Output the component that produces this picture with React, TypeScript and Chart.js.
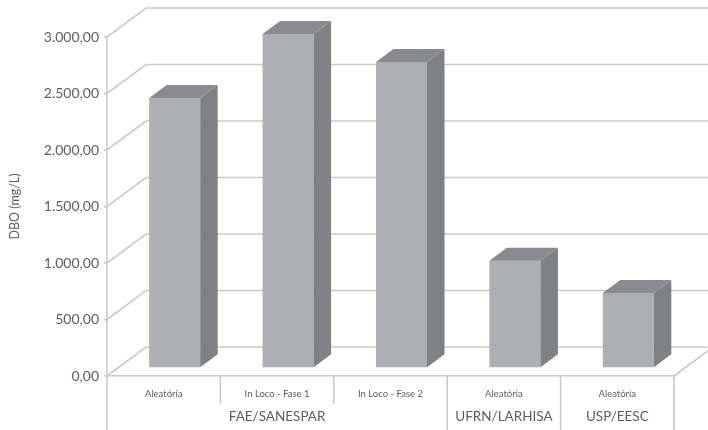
import React, { useEffect, useRef } from "react";
import { Chart, registerables } from "chart.js";

Chart.register(...registerables);

const categories = ["Aleatória", "In Loco - Fase 1", "In Loco - Fase 2", "Aleatória", "Aleatória"];
const dboValues = [2389, 2956, 2708, 950, 664];
const groupNames = ["FAE/SANESPAR", "UFRN/LARHISA", "USP/EESC"];
const groupSpans = [3, 1, 1];

const FONT = "Lato, 'Open Sans', sans-serif";
const LINE = "#c9cacc";
const TEXT = "#5c5d5f";
const FRONT = "#aeafb2";
const SIDE = "#808184";
const TOP = "#8a8b8e";

const WALL_DX = 39;
const WALL_DY = 29;
const BAR_DX = 11;
const BAR_DY = 8;
const BAR_DEPTH_X = 17.5;
const BAR_DEPTH_Y = 13;

// Back wall, side wall and floor of the 3D box, plus the two-level category dividers.
const box3d = {
  id: "box3d",
  beforeDatasetsDraw(chart: any) {
    const { ctx, scales, chartArea, width, height } = chart;
    const { left, right, bottom } = chartArea;
    ctx.save();
    ctx.strokeStyle = LINE;
    ctx.lineWidth = 1.6;

    for (const tick of scales.y.ticks) {
      const y = scales.y.getPixelForValue(tick.value);
      ctx.beginPath();
      ctx.moveTo(left, y);
      ctx.lineTo(left + WALL_DX, y - WALL_DY);
      ctx.lineTo(width + 2, y - WALL_DY);
      ctx.stroke();
    }

    ctx.beginPath();
    ctx.moveTo(right, bottom);
    ctx.lineTo(right + WALL_DX, bottom - WALL_DY);
    ctx.stroke();

    // Left axis carries on down beside the category rows.
    ctx.beginPath();
    ctx.moveTo(left, bottom);
    ctx.lineTo(left, height);
    ctx.stroke();

    const step = (right - left) / categories.length;
    let index = 0;
    groupSpans.forEach((span, g) => {
      for (let i = 1; i < span; i++) {
        const x = left + step * (index + i);
        ctx.beginPath();
        ctx.moveTo(x, bottom);
        ctx.lineTo(x, 404);
        ctx.stroke();
      }
      index += span;
      const x = left + step * index;
      ctx.beginPath();
      ctx.moveTo(x, bottom);
      ctx.lineTo(x, height);
      ctx.stroke();

      const startX = left + step * (index - span);
      ctx.fillStyle = TEXT;
      ctx.font = `13.5px ${FONT}`;
      ctx.textAlign = "center";
      ctx.textBaseline = "middle";
      ctx.fillText(groupNames[g], (startX + x) / 2, 417);
    });
    ctx.restore();

    // The bars stand a little behind the front plane of the box.
    ctx.save();
    ctx.translate(BAR_DX, -BAR_DY);
  },
  afterDatasetsDraw(chart: any) {
    const { ctx } = chart;
    for (const bar of chart.getDatasetMeta(0).data) {
      const half = bar.width / 2;
      const l = bar.x - half;
      const r = bar.x + half;
      const t = bar.y;
      const b = bar.base;

      ctx.fillStyle = SIDE;
      ctx.beginPath();
      ctx.moveTo(r, t);
      ctx.lineTo(r + BAR_DEPTH_X, t - BAR_DEPTH_Y);
      ctx.lineTo(r + BAR_DEPTH_X, b - BAR_DEPTH_Y);
      ctx.lineTo(r, b);
      ctx.closePath();
      ctx.fill();

      ctx.fillStyle = TOP;
      ctx.beginPath();
      ctx.moveTo(l, t);
      ctx.lineTo(l + BAR_DEPTH_X, t - BAR_DEPTH_Y);
      ctx.lineTo(r + BAR_DEPTH_X, t - BAR_DEPTH_Y);
      ctx.lineTo(r, t);
      ctx.closePath();
      ctx.fill();
    }
    ctx.restore();
  },
};

const formatValue = (v: number) =>
  new Intl.NumberFormat("pt-BR", { minimumFractionDigits: 2, maximumFractionDigits: 2 }).format(v);

export default function App() {
  const ref = useRef<HTMLCanvasElement>(null);

  useEffect(() => {
    const chart = new Chart(ref.current!, {
      type: "bar",
      data: {
        labels: categories,
        datasets: [
          {
            data: dboValues,
            backgroundColor: FRONT,
            barPercentage: 0.45,
            categoryPercentage: 1,
            clip: false as any,
          },
        ],
      },
      options: {
        animation: false,
        responsive: false,
        layout: { padding: { top: 37, right: 34, left: 0, bottom: 0 } },
        plugins: { legend: { display: false }, tooltip: { enabled: false } },
        scales: {
          x: {
            afterFit: (s: any) => {
              s.height = 54;
            },
            grid: { display: false },
            border: { display: true, color: LINE, width: 1.6 },
            ticks: {
              color: TEXT,
              font: { family: FONT, size: 9.5 },
              padding: 4,
              maxRotation: 0,
              autoSkip: false,
            },
          },
          y: {
            min: 0,
            max: 3000,
            afterFit: (s: any) => {
              s.width = 107;
            },
            grid: { drawOnChartArea: false, tickLength: 3, color: LINE, lineWidth: 1.6 },
            border: { display: true, color: LINE, width: 1.6 },
            ticks: {
              stepSize: 500,
              color: TEXT,
              font: { family: FONT, size: 14 },
              padding: 5,
              callback: (v: any) => formatValue(Number(v)),
            },
            title: {
              display: true,
              text: "DBO (mg/L)",
              color: TEXT,
              font: { family: FONT, size: 12.5 },
              padding: { top: 7, bottom: 0 },
            },
          },
        },
      },
      plugins: [box3d],
    });
    return () => chart.destroy();
  }, []);

  return (
    <div style={{ position: "absolute", left: 0, top: 0, width: 708, height: 430, background: "#fff" }}>
      <canvas ref={ref} width={708} height={430} style={{ display: "block" }} />
    </div>
  );
}
